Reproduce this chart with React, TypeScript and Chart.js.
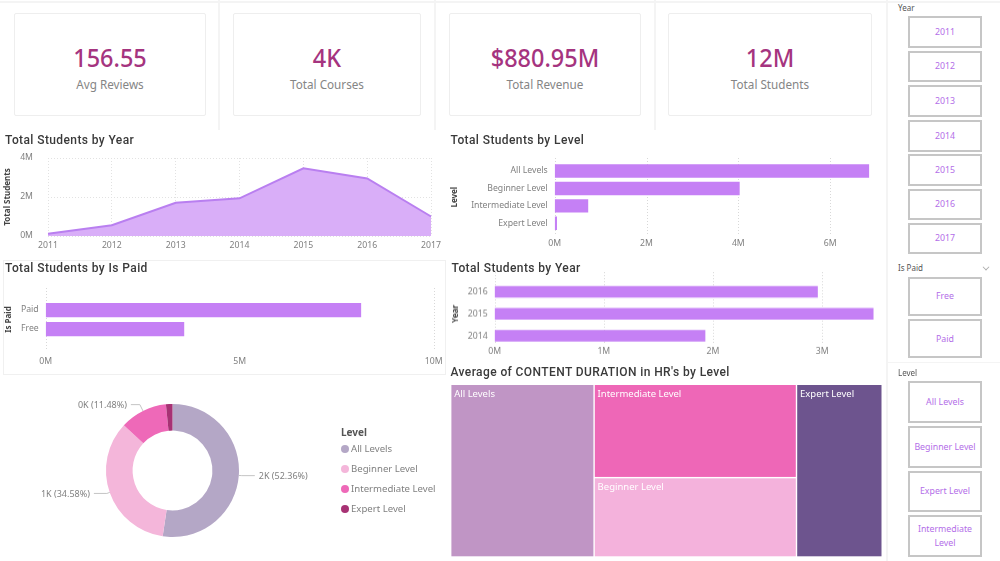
import { useEffect, useRef } from "react"
import { Chart, registerables } from "chart.js"

Chart.register(...registerables)

const kpiValues = ["156.55", "4K", "$880.95M", "12M"]
const kpiLabels = ["Avg Reviews", "Total Courses", "Total Revenue", "Total Students"]

// student counts are in millions
const areaYears = ["2011", "2012", "2013", "2014", "2015", "2016", "2017"]
const areaStudents = [0.12, 0.55, 1.7, 1.93, 3.47, 2.95, 1.0]

const levelNames = ["All Levels", "Beginner Level", "Intermediate Level", "Expert Level"]
const levelStudents = [6.85, 4.03, 0.73, 0.05]

const paidNames = ["Paid", "Free"]
const paidStudents = [8.13, 3.57]

const barYears = ["2016", "2015", "2014"]
const barYearStudents = [2.96, 3.47, 1.93]

const donutLabels = ["2K (52.36%)", "1K (34.58%)", "0K (11.48%)", ""]
const donutShares = [52.36, 34.58, 11.48, 1.58]
const donutColors = ["#b4a7c6", "#f4b6da", "#ee69b8", "#a73274"]

const treeNames = ["All Levels", "Intermediate Level", "Beginner Level", "Expert Level"]
const treeHours = [3.33, 2.54, 2.16, 1.99]
const treeColors = ["#c095c5", "#ee67b7", "#f4b2dc", "#6d548e"]
const treeColumns = [[0], [1, 2], [3]]

const slicerYears = ["2011", "2012", "2013", "2014", "2015", "2016", "2017"]
const slicerPaid = ["Free", "Paid"]
const slicerLevels = ["All Levels", "Beginner Level", "Expert Level", "Intermediate Level"]

const BAR = "#c580f5"
const TICK = "#808080"
const FONT = "'Noto Sans', sans-serif"
const TITLE_FONT = "Roboto, sans-serif"
const TICK_SIZE = 8.7

const toM = (v: any) => `${v}M`

// dotted vertical lines that run past the plot area, like the Power BI ones
function longGrid(top: number, bottom: number, only?: number[]) {
  return {
    id: "longGrid",
    beforeDatasetsDraw(chart: any) {
      const { ctx, scales } = chart
      ctx.save()
      ctx.strokeStyle = "#d8d8d8"
      ctx.setLineDash([1, 2])
      scales.x.ticks.forEach((tick: any, i: number) => {
        if (only && !only.includes(tick.value)) return
        const x = Math.round(scales.x.getPixelForTick(i)) + 0.5
        ctx.beginPath()
        ctx.moveTo(x, top)
        ctx.lineTo(x, bottom)
        ctx.stroke()
      })
      ctx.restore()
    },
  }
}

function hBarConfig(o: any) {
  return {
    type: "bar",
    data: {
      labels: o.labels,
      datasets: [
        { data: o.values, backgroundColor: BAR, categoryPercentage: o.fill, barPercentage: 1 },
      ],
    },
    plugins: [longGrid(o.gridTop, o.gridBottom, o.gridOnly)],
    options: {
      indexAxis: "y",
      responsive: false,
      animation: false,
      layout: { padding: { top: o.padTop, right: o.padRight, left: 0, bottom: 0 } },
      plugins: { legend: { display: false }, tooltip: { enabled: false } },
      scales: {
        x: {
          type: "linear",
          min: 0,
          max: o.max,
          grid: { display: false, drawTicks: false },
          border: { display: false },
          ticks: {
            stepSize: o.step,
            includeBounds: false,
            callback: toM,
            color: TICK,
            font: { family: FONT, size: TICK_SIZE },
            padding: o.tickPad,
            maxRotation: 0,
          },
          afterFit: (s: any) => {
            s.height = o.xHeight
          },
        },
        y: {
          grid: { display: false, drawTicks: false },
          border: { display: false },
          ticks: { color: TICK, font: { family: FONT, size: TICK_SIZE }, padding: 7, autoSkip: false },
          title: {
            display: true,
            text: o.axisTitle,
            color: "#444",
            font: { family: FONT, size: 8, weight: "bold" },
            padding: { top: o.titlePad, bottom: 0 },
          },
          afterFit: (s: any) => {
            s.width = o.yWidth
          },
        },
      },
    },
  }
}

const areaConfig = {
  type: "line",
  data: {
    labels: areaYears,
    datasets: [
      {
        data: areaStudents,
        fill: "origin",
        backgroundColor: "#d9aef8",
        borderColor: "#b97ff0",
        borderWidth: 2,
        pointRadius: 0,
        tension: 0,
      },
    ],
  },
  options: {
    responsive: false,
    animation: false,
    layout: { padding: { top: 28, right: 12, left: 0, bottom: 0 } },
    plugins: { legend: { display: false }, tooltip: { enabled: false } },
    scales: {
      x: {
        offset: false,
        grid: { color: "#e2e2e2", drawTicks: false },
        border: { display: false, dash: [1, 2] },
        ticks: { color: TICK, font: { family: FONT, size: TICK_SIZE }, padding: 4, maxRotation: 0, autoSkip: false },
        afterFit: (s: any) => {
          s.height = 21
        },
      },
      y: {
        min: 0,
        max: 4,
        grid: { color: "#e2e2e2", drawTicks: false },
        border: { display: false, dash: [1, 2] },
        ticks: { stepSize: 2, callback: toM, color: TICK, font: { family: FONT, size: TICK_SIZE }, padding: 15 },
        title: {
          display: true,
          text: "Total Students",
          color: "#444",
          font: { family: FONT, size: 8, weight: "bold" },
          padding: { top: 3, bottom: 0 },
        },
        afterFit: (s: any) => {
          s.width = 48
        },
      },
    },
  },
}

// labels with a short leader line outside the ring
const donutLeaders = {
  id: "donutLeaders",
  afterDatasetsDraw(chart: any) {
    const { ctx } = chart
    const arcs = chart.getDatasetMeta(0).data
    ctx.save()
    ctx.font = `9px ${FONT}`
    ctx.textBaseline = "middle"
    arcs.forEach((arc: any, i: number) => {
      if (!donutLabels[i]) return
      const mid = (arc.startAngle + arc.endAngle) / 2
      const r = arc.outerRadius
      const side = Math.cos(mid) >= 0 ? 1 : -1
      const out = Math.abs(Math.cos(mid)) > 0.7 ? 3 : 7
      const x0 = arc.x + Math.cos(mid) * r
      const y0 = arc.y + Math.sin(mid) * r
      const x1 = arc.x + Math.cos(mid) * (r + out)
      const y1 = arc.y + Math.sin(mid) * (r + out)
      const x2 = x1 + side * (Math.abs(Math.cos(mid)) > 0.7 ? 13 : 9)
      ctx.strokeStyle = "#c4c4c4"
      ctx.beginPath()
      ctx.moveTo(x0, y0)
      ctx.lineTo(x1, y1)
      ctx.lineTo(x2, y1)
      ctx.stroke()
      ctx.fillStyle = TICK
      ctx.textAlign = side > 0 ? "left" : "right"
      ctx.fillText(donutLabels[i], x2 + side * 4, y1 + 1)
    })
    ctx.restore()
  },
}

const donutConfig = {
  type: "doughnut",
  data: {
    labels: levelNames,
    datasets: [{ data: donutShares, backgroundColor: donutColors, borderWidth: 0 }],
  },
  plugins: [donutLeaders],
  options: {
    responsive: false,
    animation: false,
    radius: 66.5,
    cutout: "60%",
    plugins: { legend: { display: false }, tooltip: { enabled: false } },
  },
}

// no treemap controller in plain Chart.js, so the cells go through two linear scales
const treeCells = {
  id: "treeCells",
  afterDatasetsDraw(chart: any) {
    const { ctx, scales } = chart
    let left = 0
    ctx.save()
    treeColumns.forEach((col) => {
      const colSum = col.reduce((a, i) => a + treeHours[i], 0)
      let share = 0
      col.forEach((i) => {
        const x0 = scales.x.getPixelForValue(left)
        const x1 = scales.x.getPixelForValue(left + colSum)
        const y0 = scales.y.getPixelForValue(share)
        const y1 = scales.y.getPixelForValue(share + treeHours[i] / colSum)
        ctx.fillStyle = treeColors[i]
        ctx.fillRect(x0 + 0.7, y0 + 0.7, x1 - x0 - 1.4, y1 - y0 - 1.4)
        ctx.fillStyle = "#ffffff"
        ctx.font = `9.5px ${FONT}`
        ctx.textBaseline = "middle"
        ctx.textAlign = "left"
        ctx.fillText(treeNames[i], x0 + 3.5, y0 + 10)
        share += treeHours[i] / colSum
      })
      left += colSum
    })
    ctx.restore()
  },
}

const treeConfig = {
  type: "scatter",
  data: { datasets: [{ data: [] }] },
  plugins: [treeCells],
  options: {
    responsive: false,
    animation: false,
    layout: { padding: { left: 5.7, right: 7.8, top: 6.3, bottom: 4 } },
    plugins: { legend: { display: false }, tooltip: { enabled: false } },
    scales: {
      x: { display: false, min: 0, max: treeHours.reduce((a, b) => a + b, 0) },
      y: { display: false, min: 0, max: 1, reverse: true },
    },
  },
}

const levelBarConfig = hBarConfig({
  labels: levelNames,
  values: levelStudents,
  max: 7,
  step: 2,
  fill: 0.77,
  axisTitle: "Level",
  titlePad: 4.7,
  padTop: 22.3,
  padRight: 14,
  xHeight: 23,
  yWidth: 109.7,
  tickPad: 6,
  gridTop: 18,
  gridBottom: 95,
})

const paidBarConfig = hBarConfig({
  labels: paidNames,
  values: paidStudents,
  max: 10,
  step: 5,
  fill: 0.75,
  axisTitle: "Is Paid",
  titlePad: 3.9,
  padTop: 42.5,
  padRight: 36.3,
  xHeight: 37.5,
  yWidth: 45.7,
  tickPad: 18,
  gridTop: 30,
  gridBottom: 93,
  gridOnly: [0, 10],
})

const yearBarConfig = hBarConfig({
  labels: barYears,
  values: barYearStudents,
  max: 3.5,
  step: 1,
  fill: 0.53,
  axisTitle: "Year",
  titlePad: 5.8,
  padTop: 20.5,
  padRight: 13.2,
  xHeight: 14,
  yWidth: 49.6,
  tickPad: -1,
  gridTop: 12,
  gridBottom: 83,
})

function ChartBox({ config, left, top, width, height }: any) {
  const chartRef = useRef<HTMLCanvasElement>(null)

  useEffect(() => {
    if (!chartRef.current) return
    const chart = new Chart(chartRef.current, config)
    return () => chart.destroy()
  }, [config])

  return (
    <canvas ref={chartRef} width={width} height={height} style={{ position: "absolute", left, top, width, height }} />
  )
}

function Card({ left, width, index }: any) {
  return (
    <div
      style={{
        position: "absolute",
        left,
        top: 13,
        width,
        height: 103,
        border: "1px solid #eeeeee",
        borderRadius: 2,
        boxSizing: "border-box",
        textAlign: "center",
      }}
    >
      <div style={{ position: "absolute", left: 0, right: 0, top: 25, lineHeight: "36px", fontSize: 25.5, fontWeight: 500, color: "#a5347f", transform: "scaleX(0.92)" }}>
        {kpiValues[index]}
      </div>
      <div style={{ position: "absolute", left: 0, right: 0, top: 61, lineHeight: "18px", fontSize: 11.7, color: "#858585" }}>
        {kpiLabels[index]}
      </div>
    </div>
  )
}

function Title({ left, top, text }: any) {
  return (
    <div style={{ position: "absolute", left, top, lineHeight: "16px", whiteSpace: "nowrap", fontFamily: TITLE_FONT, fontSize: 12, fontWeight: 500, letterSpacing: 0.4, color: "#3a3a3a" }}>
      {text}
    </div>
  )
}

function Slicer({ items, tops, height, label, labelTop }: any) {
  return (
    <>
      <div style={{ position: "absolute", left: 898, top: labelTop, lineHeight: "10px", fontSize: 8, color: "#555" }}>{label}</div>
      {items.map((item: string, i: number) => (
        <div
          key={item}
          style={{
            position: "absolute",
            left: 908,
            top: tops[i],
            width: 74,
            height,
            boxSizing: "border-box",
            border: "2px solid #c6c6c6",
            display: "flex",
            alignItems: "center",
            justifyContent: "center",
            textAlign: "center",
            lineHeight: "14px",
            padding: "0 2px",
            fontSize: 8.8,
            color: "#b36ee8",
          }}
        >
          {item}
        </div>
      ))}
    </>
  )
}

function Line({ left, top, width, height }: any) {
  return <div style={{ position: "absolute", left, top, width, height, background: "#f4f4f4" }} />
}

export default function App() {
  return (
    <div style={{ position: "fixed", left: 0, top: 0, width: 1000, height: 561, overflow: "hidden", background: "#fff", fontFamily: FONT }}>
      <Line left={0} top={1} width={1000} height={2} />
      <Line left={218} top={0} width={2} height={130} />
      <Line left={434} top={0} width={2} height={130} />
      <Line left={654} top={0} width={2} height={130} />
      <Line left={886} top={0} width={2} height={561} />
      <Line left={888} top={362} width={112} height={1} />
      <div style={{ position: "absolute", left: 3, top: 260, width: 443, height: 115, boxSizing: "border-box", border: "1px solid #f0f0f0" }} />

      <Card left={14} width={192} index={0} />
      <Card left={233} width={188} index={1} />
      <Card left={449} width={192} index={2} />
      <Card left={668} width={204} index={3} />

      <ChartBox config={areaConfig} left={0} top={130} width={445} height={127} />
      <ChartBox config={levelBarConfig} left={445} top={140} width={445} height={115} />
      <ChartBox config={paidBarConfig} left={0} top={258} width={470} height={118} />
      <ChartBox config={yearBarConfig} left={445} top={260} width={445} height={100.5} />
      <ChartBox config={donutConfig} left={0} top={380} width={345} height={181} />
      <ChartBox config={treeConfig} left={445} top={378} width={445} height={183} />

      <Title left={5} top={132} text="Total Students by Year" />
      <Title left={450.5} top={132} text="Total Students by Level" />
      <Title left={5} top={260} text="Total Students by Is Paid" />
      <Title left={451.5} top={260} text="Total Students by Year" />
      <Title left={450.5} top={364} text="Average of CONTENT DURATION in HR's by Level" />

      <div style={{ position: "absolute", left: 341, top: 426, lineHeight: "13px", fontSize: 10, fontWeight: 700, color: "#555" }}>Level</div>
      {levelNames.map((name, i) => (
        <div key={name} style={{ position: "absolute", left: 341, top: [442, 462, 482, 501.5][i], height: 14, lineHeight: "14px", fontSize: 9.6, color: TICK, whiteSpace: "nowrap" }}>
          <span style={{ position: "absolute", left: 0, top: 3, width: 8, height: 8, borderRadius: "50%", background: donutColors[i] }} />
          <span style={{ marginLeft: 10 }}>{name}</span>
        </div>
      ))}

      <Slicer items={slicerYears} tops={[16, 50.5, 85, 120, 154, 188.5, 222.5]} height={31.5} label="Year" labelTop={3} />
      <Slicer items={slicerPaid} tops={[276.5, 319]} height={39} label="Is Paid" labelTop={263} />
      <div style={{ position: "absolute", left: 983, top: 264, width: 5, height: 5, borderRight: "1px solid #aaa", borderBottom: "1px solid #aaa", transform: "rotate(45deg) scale(0.8)" }} />
      <Slicer items={slicerLevels} tops={[381, 426, 470.5, 515]} height={41.5} label="Level" labelTop={368} />
    </div>
  )
}
